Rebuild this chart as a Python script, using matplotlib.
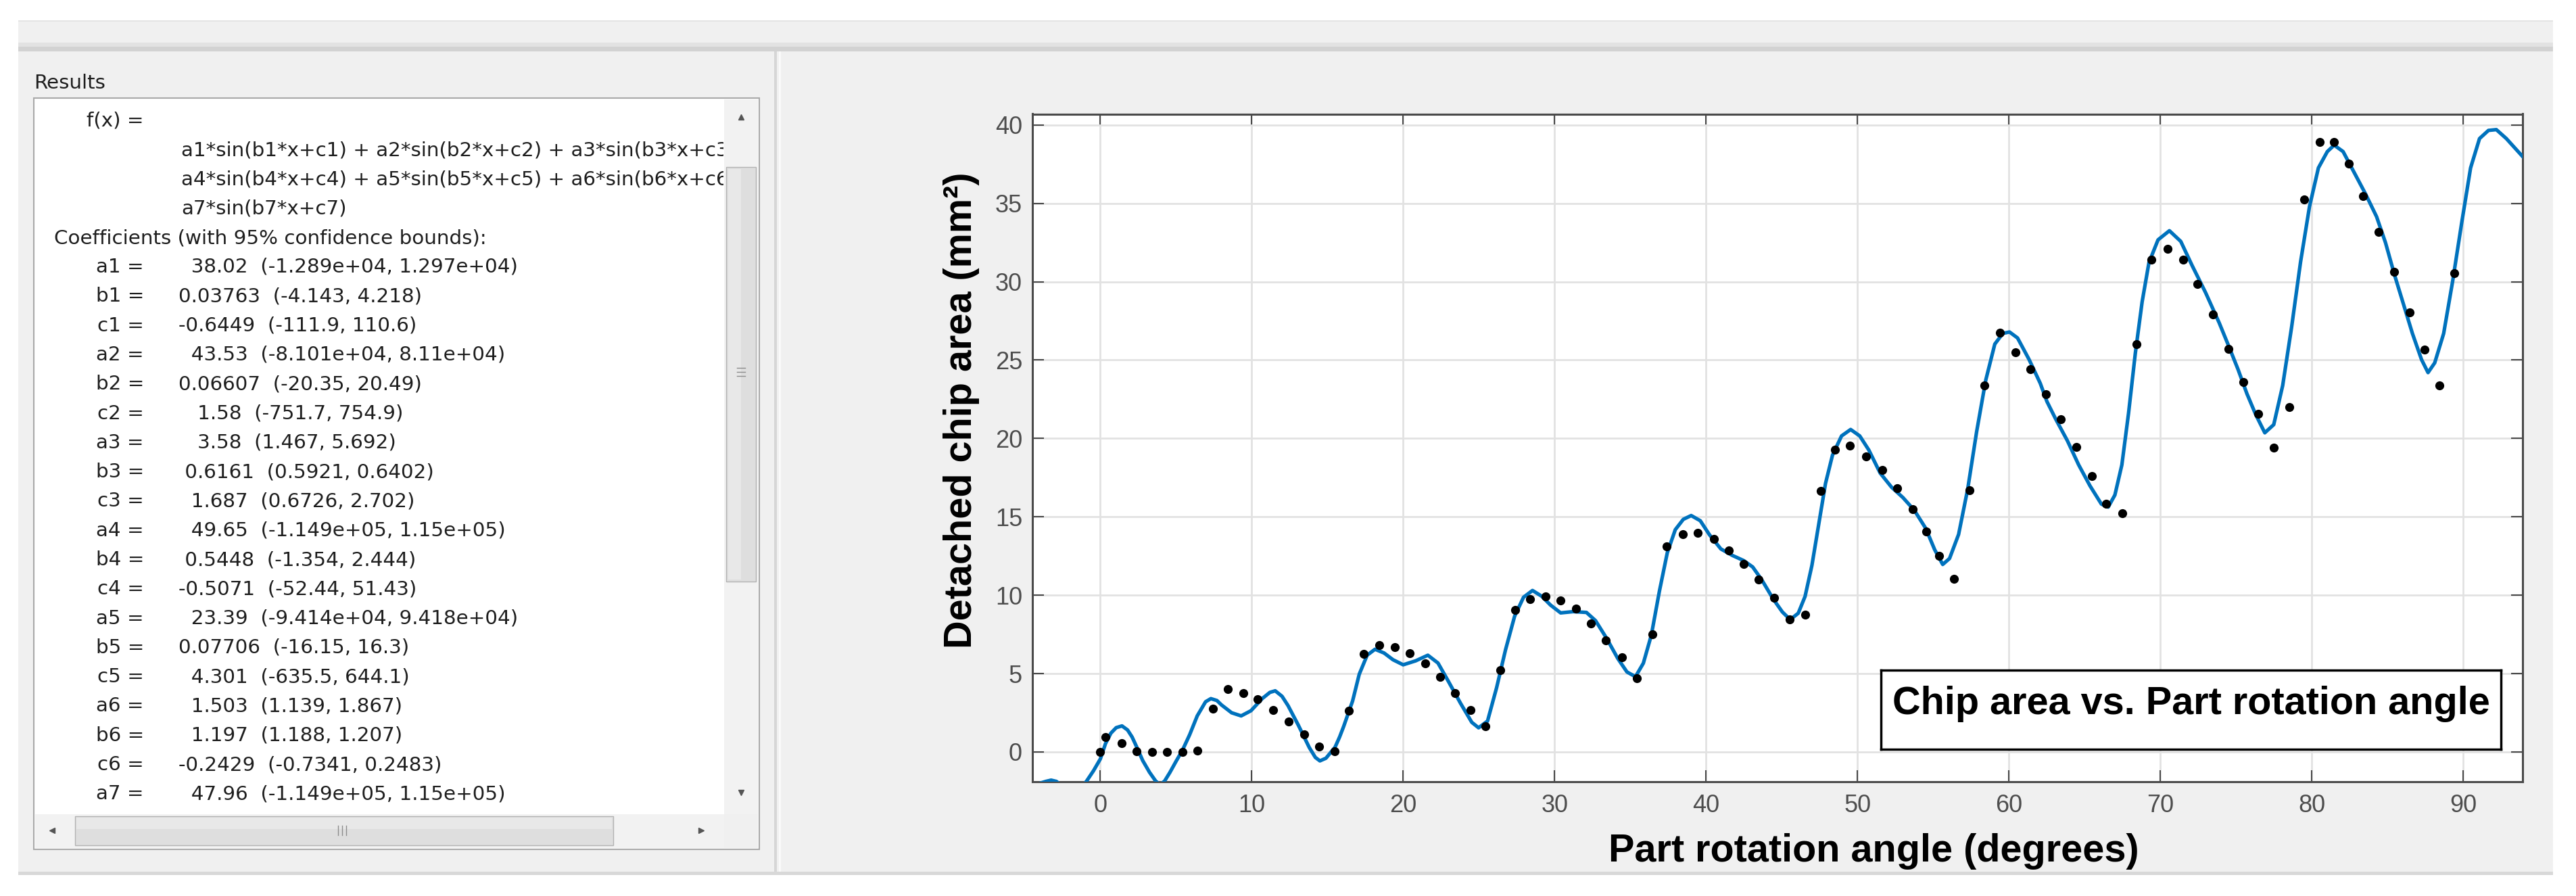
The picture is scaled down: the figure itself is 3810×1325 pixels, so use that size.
import matplotlib
matplotlib.use("Agg")
import matplotlib.pyplot as plt
from matplotlib.patches import Rectangle

# measured chip area (mm^2) vs part rotation angle (degrees)
angle = [0.0, 0.35, 1.43, 2.41, 3.43, 4.41, 5.42, 6.42, 7.42, 8.43, 9.46, 10.4, 11.42,
         12.44, 13.46, 14.47, 15.47, 16.4, 17.4, 18.44, 19.45, 20.45, 21.44, 22.45, 23.42,
         24.43, 25.45, 26.4, 27.4, 28.4, 29.4, 30.4, 31.4, 32.4, 33.4, 34.46, 35.44, 36.44,
         37.41, 38.45, 39.44, 40.53, 41.5, 42.48, 43.49, 44.5, 45.53, 46.54, 47.56, 48.53,
         49.5, 50.57, 51.62, 52.63, 53.64, 54.55, 55.4, 56.38, 57.4, 58.4, 59.4, 60.42,
         61.44, 62.44, 63.44, 64.46, 65.46, 66.44, 67.5, 68.43, 69.4, 70.49, 71.5, 72.43,
         73.49, 74.5, 75.5, 76.48, 77.49, 78.52, 79.48, 80.52, 81.48, 82.44, 83.4, 84.4,
         85.44, 86.47, 87.44, 88.42, 89.42]
area = [0.0, 0.96, 0.57, 0.03, 0.0, 0.0, 0.0, 0.1, 2.74, 4.0, 3.77, 3.38, 2.66,
        1.92, 1.1, 0.36, 0.06, 2.65, 6.25, 6.8, 6.68, 6.3, 5.63, 4.8, 3.76,
        2.68, 1.63, 5.22, 9.06, 9.75, 9.92, 9.68, 9.15, 8.18, 7.12, 6.03, 4.72, 7.5,
        13.1, 13.9, 13.98, 13.6, 12.87, 11.97, 10.98, 9.84, 8.44, 8.77, 16.64, 19.3,
        19.54, 18.85, 17.98, 16.84, 15.49, 14.05, 12.5, 11.03, 16.68, 23.38, 26.75, 25.5,
        24.42, 22.84, 21.24, 19.47, 17.6, 15.81, 15.23, 26.02, 31.42, 32.09, 31.42, 29.87,
        27.91, 25.7, 23.58, 21.57, 19.43, 22.02, 35.23, 38.92, 38.92, 37.51, 35.46, 33.18,
        30.63, 28.04, 25.65, 23.37, 30.53]

# fitted sum-of-sines curve
fit_angle = [-4.47, -4.0, -3.6, -3.25, -2.9, -2.5, -2.0, -1.5, -1.1, -0.9, -0.45, 0.0,
             0.35, 0.7, 1.05, 1.43, 1.8, 2.1, 2.41, 2.8, 3.25, 3.65, 3.95, 4.25, 4.6,
             5.0, 5.42, 5.9, 6.4, 6.95, 7.3, 7.7, 8.0, 8.67, 9.3, 9.95, 10.7, 11.2,
             11.55, 12.0, 12.4, 13.08, 13.8, 14.2, 14.5, 14.9, 15.2, 15.5, 15.8, 16.06,
             16.66, 17.1, 17.62, 18.14, 18.74, 19.33, 20.0, 20.82, 21.63, 22.3, 22.97,
             23.79, 24.53, 24.98, 25.57, 26.17, 26.76, 27.36, 27.95, 28.54, 29.14, 29.73,
             30.4, 31.22, 32.1, 32.7, 33.44, 34.18, 34.78, 35.34, 35.86, 36.39, 36.92,
             37.44, 37.97, 38.5, 39.02, 39.62, 40.23, 40.98, 41.73, 42.48, 43.08, 43.68,
             44.44, 45.04, 45.56, 46.09, 46.54, 46.99, 47.44, 47.89, 48.35, 48.95, 49.55,
             50.15, 50.75, 51.5, 52.25, 53.0, 53.76, 54.51, 55.1, 55.63, 56.08, 56.68,
             57.28, 57.87, 58.47, 59.07, 59.6, 60.04, 60.57, 61.32, 62.07, 62.51, 63.11,
             63.86, 64.61, 65.36, 66.11, 66.56, 67.0, 67.46, 67.9, 68.35, 68.8, 69.25,
             69.85, 70.6, 71.35, 72.1, 72.99, 73.89, 74.53, 75.13, 75.72, 76.31, 76.9,
             77.49, 78.08, 78.67, 79.26, 79.85, 80.44, 81.03, 81.48, 82.07, 82.81, 83.55,
             84.28, 84.87, 85.47, 86.06, 86.65, 87.25, 87.68, 88.12, 88.71, 89.3, 89.9,
             90.49, 91.08, 91.67, 92.19, 92.85, 93.91]
fit_area = [-2.25, -2.0, -1.88, -1.8, -1.88, -2.2, -2.6, -2.5, -2.1, -1.85, -1.2, -0.45,
            0.55, 1.2, 1.55, 1.66, 1.4, 0.95, 0.3, -0.55, -1.3, -1.85, -2.1, -1.85, -1.3,
            -0.6, 0.1, 1.1, 2.3, 3.2, 3.4, 3.28, 3.0, 2.5, 2.3, 2.63, 3.41, 3.8,
            3.9, 3.55, 2.95, 1.7, 0.28, -0.35, -0.57, -0.4, -0.05, 0.3, 0.95, 1.6,
            3.25, 4.96, 6.17, 6.55, 6.31, 5.88, 5.56, 5.81, 6.17, 5.67, 4.53,
            3.1, 1.89, 1.54, 1.97, 4.1, 6.52, 8.66, 9.87, 10.3, 9.94, 9.37,
            8.87, 8.95, 8.9, 8.38, 7.24, 5.95, 5.1, 4.8, 5.66, 7.46, 10.25,
            12.7, 14.18, 14.84, 15.08, 14.75, 13.85, 12.95, 12.54, 12.21, 11.8, 10.98,
            9.75, 8.93, 8.44, 8.85, 9.92, 11.89, 14.51, 17.13, 18.93, 20.16, 20.57,
            20.16, 19.26, 17.79, 16.89, 16.23, 15.41, 14.26, 12.9, 11.96, 12.34, 13.88,
            16.77, 20.43, 23.71, 26.02, 26.7, 26.79, 26.41, 25.06, 23.52, 22.36, 21.2,
            19.86, 18.31, 16.97, 15.81, 15.62, 16.39, 18.31, 21.59, 25.44, 28.72, 31.22,
            32.67, 33.25, 32.57, 31.03, 29.3, 27.37, 25.86, 24.41, 22.85, 21.5, 20.36,
            20.88, 23.37, 27.1, 31.25, 34.78, 37.26, 38.3, 38.71, 38.3, 36.95, 35.6,
            34.15, 32.49, 30.42, 28.55, 26.69, 25.03, 24.2, 24.82, 26.69, 30.0, 33.74,
            37.26, 39.13, 39.65, 39.7, 39.13, 38.0]

xticks = [0, 10, 20, 30, 40, 50, 60, 70, 80, 90]
yticks = [0, 5, 10, 15, 20, 25, 30, 35, 40]

formula = ["a1*sin(b1*x+c1) + a2*sin(b2*x+c2) + a3*sin(b3*x+c3) +",
           "a4*sin(b4*x+c4) + a5*sin(b5*x+c5) + a6*sin(b6*x+c6) +",
           "a7*sin(b7*x+c7)"]
coef_names = ["a1", "b1", "c1", "a2", "b2", "c2", "a3", "b3", "c3", "a4",
              "b4", "c4", "a5", "b5", "c5", "a6", "b6", "c6", "a7"]
coef_values = ["38.02", "0.03763", "-0.6449", "43.53", "0.06607", "1.58", "3.58",
               "0.6161", "1.687", "49.65", "0.5448", "-0.5071", "23.39", "0.07706",
               "4.301", "1.503", "1.197", "-0.2429", "47.96"]
coef_bounds = ["(-1.289e+04, 1.297e+04)", "(-4.143, 4.218)", "(-111.9, 110.6)",
               "(-8.101e+04, 8.11e+04)", "(-20.35, 20.49)", "(-751.7, 754.9)",
               "(1.467, 5.692)", "(0.5921, 0.6402)", "(0.6726, 2.702)",
               "(-1.149e+05, 1.15e+05)", "(-1.354, 2.444)", "(-52.44, 51.43)",
               "(-9.414e+04, 9.418e+04)", "(-16.15, 16.3)", "(-635.5, 644.1)",
               "(1.139, 1.867)", "(1.188, 1.207)", "(-0.7341, 0.2483)",
               "(-1.149e+05, 1.15e+05)"]

W, H = 3810, 1325
fig = plt.figure(figsize=(W / 100, H / 100), dpi=100)
fig.patch.set_facecolor("white")

# background axes in pixel units for the window chrome
bg = fig.add_axes([0, 0, 1, 1])
bg.set_xlim(0, W)
bg.set_ylim(H, 0)
bg.axis("off")


def rect(x0, y0, x1, y1, color, ec="none", lw=0):
    bg.add_patch(Rectangle((x0, y0), x1 - x0, y1 - y0, facecolor=color,
                           edgecolor=ec, linewidth=lw))


rect(27, 30, 3776, 1294, "#f0f0f0")
rect(27, 30, 3776, 32, "#e4e4e4")
rect(27, 63, 3776, 69, "#e2e2e2")
rect(27, 69, 3776, 76, "#d2d2d2")
rect(27, 1289, 3776, 1294, "#d8d8d8")
rect(1145, 76, 1149, 1289, "#d6d6d6")
rect(1152, 76, 1155, 1289, "#fafafa")

txt = dict(family=["DejaVu Sans"], fontsize=21.2, color="#1e1e1e")
bg.text(50, 123, "Results", va="center", ha="left", **txt)

# results list box with scrollbars
rect(50, 145, 1123, 1256, "white", ec="#a9a9a9", lw=1.5)
rect(1071, 147, 1121, 1204, "#f2f2f2")
rect(1074, 247, 1118, 860, "#dedede", ec="#b2b2b2", lw=1)
rect(1077, 250, 1096, 857, "#e8e8e8")
bg.plot(1096, 173, marker="^", ms=6, color="#555555")
bg.plot(1096, 1172, marker="v", ms=6, color="#555555")
for dy in (-6, 0, 6):
    bg.plot([1090, 1102], [550 + dy, 550 + dy], color="#8c8c8c", lw=1)
rect(52, 1204, 1071, 1254, "#f2f2f2")
rect(111, 1207, 907, 1250, "#dedede", ec="#b2b2b2", lw=1)
rect(113, 1209, 905, 1226, "#e8e8e8")
bg.plot(77, 1228, marker="<", ms=6, color="#555555")
bg.plot(1037, 1228, marker=">", ms=6, color="#555555")
for dx in (-6, 0, 6):
    bg.plot([506 + dx, 506 + dx], [1221, 1235], color="#8c8c8c", lw=1)
rect(1071, 1204, 1121, 1254, "#f0f0f0")

# text inside the list box, clipped at the scrollbar
tax = fig.add_axes([52 / W, 1 - 1203 / H, (1070 - 52) / W, (1203 - 147) / H])
tax.set_xlim(52, 1070)
tax.set_ylim(1203, 147)
tax.axis("off")
tax.text(213, 178, "f(x) =", ha="right", va="center", clip_on=True, **txt)
for i, line in enumerate(formula):
    tax.text(268, 222 + 43.3 * i, line, ha="left", va="center", clip_on=True, **txt)
tax.text(80, 352, "Coefficients (with 95% confidence bounds):", ha="left",
         va="center", clip_on=True, **txt)
for i in range(len(coef_names)):
    y = 395 + 43.3 * i
    tax.text(213, y, coef_names[i] + " =", ha="right", va="center", clip_on=True, **txt)
    s = coef_values[i].rjust(7) + "  " + coef_bounds[i]
    tax.text(264, y, s, ha="left", va="center", clip_on=True, **txt)

# main plot
ax = fig.add_axes([1527.3 / W, 1 - 1156 / H, (3730.7 - 1527.3) / W, (1156 - 168.5) / H])
ax.set_facecolor("white")
ax.plot(fit_angle, fit_area, color="#0072BD", lw=3.8, solid_joinstyle="round", zorder=3)
ax.plot(angle, area, "o", color="black", ms=8.5, zorder=4)
ax.set_xlim(-4.47, 93.91)
ax.set_ylim(-1.9, 40.7)
ax.set_xticks(xticks)
ax.set_yticks(yticks)
ax.grid(True, color="#e2e2e2", lw=2)
ax.set_axisbelow(True)
ax.tick_params(direction="in", length=12, width=1.5, top=True, right=True,
               color="#4a4a4a", labelcolor="#4d4d4d", labelsize=26)
ax.tick_params(axis="x", pad=13)
ax.tick_params(axis="y", pad=11)
for lab in ax.get_xticklabels() + ax.get_yticklabels():
    lab.set_family(["Liberation Sans", "DejaVu Sans"])
for sp in ax.spines.values():
    sp.set_color("#4a4a4a")
    sp.set_linewidth(2.2)

bold = dict(family=["Liberation Sans", "DejaVu Sans"], fontsize=41.5,
            fontweight="bold", color="black")
bg.text(1422, 607, "Detached chip area (mm²)", rotation=90, ha="center",
        va="center", **bold)
bg.text(2771, 1274, "Part rotation angle (degrees)", ha="center", va="baseline", **bold)

# annotation box
bx = fig.add_axes([2782 / W, 1 - 1108 / H, (3699 - 2782) / W, (1108 - 991) / H])
bx.set_facecolor("white")
bx.set_xticks([])
bx.set_yticks([])
for sp in bx.spines.values():
    sp.set_color("black")
    sp.set_linewidth(2.5)
bx.text(0.5, 0.448, "Chip area vs. Part rotation angle", transform=bx.transAxes,
        ha="center", va="baseline", **bold)

fig.savefig("out.png", dpi=100, facecolor="white")
